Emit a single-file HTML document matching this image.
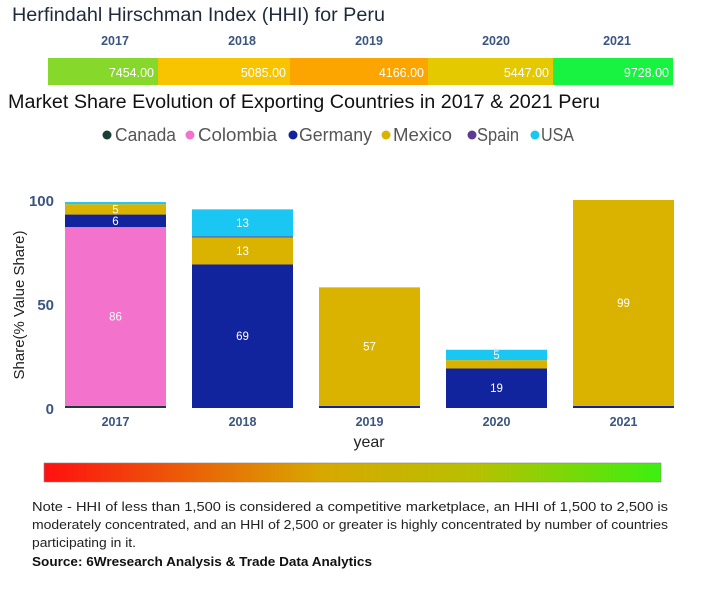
<!DOCTYPE html>
<html><head><meta charset="utf-8"><style>
body{margin:0;background:#fff;font-family:"Liberation Sans",sans-serif;}
svg{display:block}
</style></head><body>
<svg width="718" height="600">
<text x="12" y="21" font-size="19" fill="#1e2a3a" textLength="373" lengthAdjust="spacingAndGlyphs">Herfindahl Hirschman Index (HHI) for Peru</text>
<g id="hhi"></g>
<text x="8" y="108" font-size="19" fill="#111" textLength="592" lengthAdjust="spacingAndGlyphs">Market Share Evolution of Exporting Countries in 2017 &amp; 2021 Peru</text>
<g id="legend"></g>
<g id="plot"></g>
<text transform="translate(24,305) rotate(-90)" text-anchor="middle" font-size="15" fill="#222">Share(% Value Share)</text>
<text x="369" y="447" text-anchor="middle" font-size="16" fill="#222">year</text>
<defs><linearGradient id="gr" x1="0" x2="1"><stop offset="0" stop-color="#ff1010"/><stop offset="0.45" stop-color="#d8a800"/><stop offset="0.7" stop-color="#b8c000"/><stop offset="1" stop-color="#3cf010"/></linearGradient></defs>
<rect x="44" y="463" width="617" height="19" fill="url(#gr)" stroke="#888" stroke-width="0.6"/>
<text font-size="12.5" fill="#222">
<tspan x="32" y="511" textLength="636" lengthAdjust="spacingAndGlyphs">Note - HHI of less than 1,500 is considered a competitive marketplace, an HHI of 1,500 to 2,500 is</tspan>
<tspan x="32" y="529" textLength="636" lengthAdjust="spacingAndGlyphs">moderately concentrated, and an HHI of 2,500 or greater is highly concentrated by number of countries</tspan>
<tspan x="32" y="547" textLength="104" lengthAdjust="spacingAndGlyphs">participating in it.</tspan>
</text>
<text x="32" y="566" font-size="12.5" font-weight="bold" fill="#111" textLength="340" lengthAdjust="spacingAndGlyphs">Source: 6Wresearch Analysis &amp; Trade Data Analytics</text>
</svg>
<script>
const NS="http://www.w3.org/2000/svg";
function mk(p,t,a){const e=document.createElementNS(NS,t);for(const k in a)e.setAttribute(k,a[k]);p.appendChild(e);return e;}
const years=["2017","2018","2019","2020","2021"];
const hhiValues=[7454,5085,4166,5447,9728];
const hhiColors=["#86d92a","#f8c400","#fca400","#e4c800","#18f240"];
const countries=["Canada","Colombia","Germany","Mexico","Spain","USA"];
const countryColors=["#1a3d36","#f272cc","#12239e","#d9b300","#5b3a96","#1ac6f2"];
const canada=[1,0,0,0,0];
const colombia=[86,0,0,0,0];
const germany=[6,69,1,19,1];
const mexico=[5,13,57,4,99];
const spain=[0,0.5,0,0,0];
const usa=[1,13,0,5,0];
const series=[canada,colombia,germany,mexico,spain,usa];
const yTicks=[0,50,100];

const hhi=document.getElementById('hhi');
const hx=[48,158,290,428,553,673];
const hhiLabelX=[115,242,369,496,617];
years.forEach((y,i)=>{
 const r=mk(hhi,'rect',{x:hx[i],y:58,width:hx[i+1]-hx[i],height:27,fill:hhiColors[i]});
 
 
 const t=mk(hhi,'text',{x:hx[i+1]-4,y:77,'text-anchor':'end','font-size':12.5,fill:'#fff'});t.textContent=hhiValues[i].toFixed(2);
 
 
 const h=mk(hhi,'text',{x:hhiLabelX[i],y:45,'text-anchor':'middle','font-size':12.5,'font-weight':'bold',fill:'#3a5580'});h.textContent=y;
 
 
});

const lg=document.getElementById('legend');
const dotX=[107,190,293,386,472,535];
const txtX=[115,198,299,393,477,541];
const txtEnd=[176,277,372,452,519,574];
countries.forEach((c,i)=>{
 const g=mk(lg,'g',{});
 
 
 mk(g,'circle',{cx:dotX[i],cy:135,r:4.5,fill:countryColors[i]});
 const t=mk(g,'text',{x:txtX[i],y:141,'font-size':18,fill:'#555',textLength:txtEnd[i]-txtX[i],lengthAdjust:'spacingAndGlyphs'});t.textContent=c;
});

const plot=document.getElementById('plot');
const y0=408,y100=200;
const yS=v=>y0-(v/100)*(y0-y100);
const x0=52,band=127,bw=101;
const xS=i=>x0+i*band+13;
yTicks.forEach(v=>{const t=mk(plot,'text',{x:54,y:yS(v)+6,'text-anchor':'end','font-size':15,'font-weight':'bold',fill:'#3a5580'});t.textContent=v;
 
 });
years.forEach((y,i)=>{
 let cum=0;
 series.forEach((s,j)=>{
  const v=s[i]; if(!v)return;
  const top=yS(cum+v),bot=yS(cum);
  const r=mk(plot,'rect',{x:xS(i),y:top,width:bw,height:bot-top,fill:countryColors[j]});
  
  
  if(v>=5){const t=mk(plot,'text',{x:xS(i)+bw/2,y:(top+bot)/2+4,'text-anchor':'middle','font-size':11.5,fill:'#fff'});t.textContent=Math.round(v);
   
   }
  cum+=v;
 });
 const t=mk(plot,'text',{x:xS(i)+bw/2,y:426,'text-anchor':'middle','font-size':12.5,'font-weight':'bold',fill:'#3a5580'});t.textContent=y;
 
 
});
</script>
</body></html>
